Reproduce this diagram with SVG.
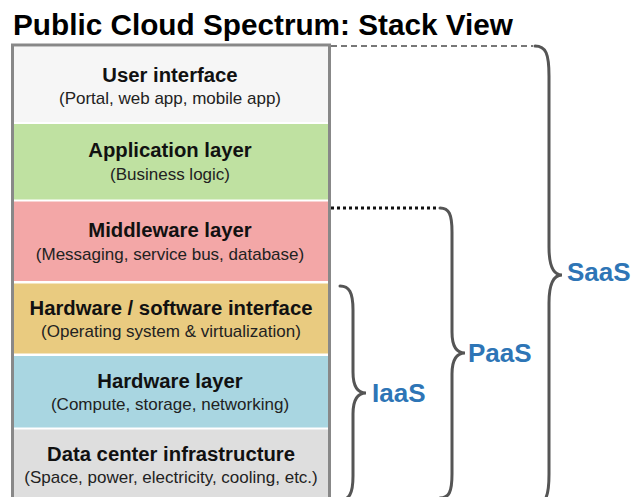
<svg xmlns="http://www.w3.org/2000/svg" width="635" height="497" viewBox="0 0 635 497">
<style>
.t{font-family:"Liberation Sans",Arial,sans-serif;font-weight:bold;font-size:20.3px;fill:#111;text-anchor:middle}
.s{font-family:"Liberation Sans",Arial,sans-serif;font-size:17px;fill:#222;text-anchor:middle}
.lbl{font-family:"Liberation Sans",Arial,sans-serif;font-weight:bold;font-size:26px;fill:#2e75b6}
.brace{fill:none;stroke:#555;stroke-width:3;stroke-linecap:round}
</style>
<rect width="635" height="497" fill="#fff"/>
<text x="13" y="35" font-family="Liberation Sans, Arial, sans-serif" font-weight="bold" font-size="29" fill="#000" textLength="500" lengthAdjust="spacingAndGlyphs">Public Cloud Spectrum: Stack View</text>
<g id="stack">
<rect x="12.5" y="45" width="317" height="470" fill="#fff" stroke="#888" stroke-width="3"/>
</g>
<g id="user-interface">
<rect x="14" y="47" width="314" height="75" fill="#f6f6f6"/>
<text class="t" x="170" y="82">User interface</text>
<text class="s" x="170" y="104">(Portal, web app, mobile app)</text>
</g>
<g id="application-layer">
<rect x="14" y="124" width="314" height="75.5" fill="#bfe1a1"/>
<text class="t" x="170" y="157">Application layer</text>
<text class="s" x="170" y="180">(Business logic)</text>
</g>
<g id="middleware-layer">
<rect x="14" y="201.5" width="314" height="79.5" fill="#f3a7a7"/>
<text class="t" x="170" y="237">Middleware layer</text>
<text class="s" x="170" y="260">(Messaging, service bus, database)</text>
</g>
<g id="hw-sw-interface">
<rect x="14" y="283.5" width="314" height="70" fill="#e9cb80"/>
<text class="t" x="171" y="315">Hardware / software interface</text>
<text class="s" x="171" y="337">(Operating system &amp; virtualization)</text>
</g>
<g id="hardware-layer">
<rect x="14" y="356" width="314" height="71.5" fill="#a9d6e1"/>
<text class="t" x="170" y="388">Hardware layer</text>
<text class="s" x="170" y="410">(Compute, storage, networking)</text>
</g>
<g id="data-center">
<rect x="14" y="429.5" width="314" height="80" fill="#dedede"/>
<text class="t" x="171" y="461">Data center infrastructure</text>
<text class="s" x="171" y="483">(Space, power, electricity, cooling, etc.)</text>
</g>
<g id="connectors">
<line x1="331" y1="46" x2="533" y2="46" stroke="#777" stroke-width="2" stroke-dasharray="6 4"/>
<line x1="331" y1="208" x2="438" y2="208" stroke="#111" stroke-width="3" stroke-dasharray="3 3"/>
<path class="brace" d="M535,46 C546,46 549,54 549,76 L549,247 C549,266 553,275 562,275 C553,275 549,284 549,303 L549,474 C549,496 546,504 535,504"/>
<path class="brace" d="M440,208 C449,208 452,214 452,232 L452,332 C452,346 456,353 465,353 C456,353 452,360 452,374 L452,474 C452,492 449,498 440,498"/>
<path class="brace" d="M340,286 C349,286 353,292 353,310 L353,372 C353,386 357,393 366,393 C357,393 353,400 353,414 L353,476 C353,494 349,500 340,500"/>
</g>
<g id="saas"><text class="lbl" x="567" y="281">SaaS</text></g>
<g id="paas"><text class="lbl" x="468" y="362">PaaS</text></g>
<g id="iaas"><text class="lbl" x="372" y="402">IaaS</text></g>
</svg>
